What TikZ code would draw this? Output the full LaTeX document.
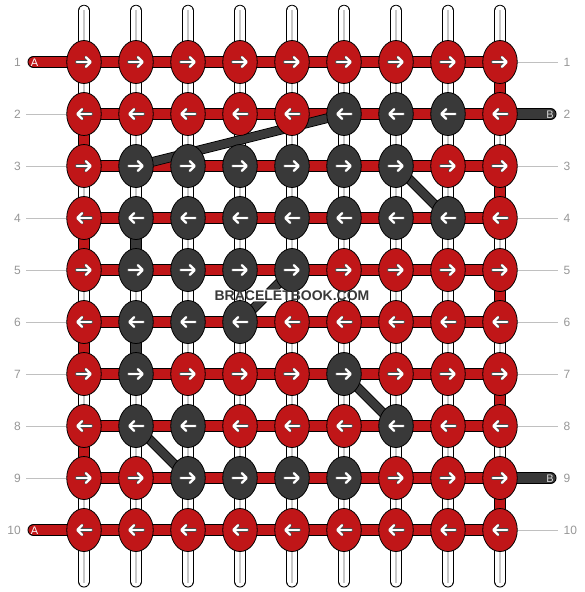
\documentclass[tikz,border=0pt]{standalone}
\usepackage{fontspec}
\setmainfont{Liberation Sans}
\usetikzlibrary{shapes.geometric,arrows.meta}
\definecolor{cR}{RGB}{192,22,24}
\definecolor{cD}{RGB}{57,57,57}
\definecolor{lblgray}{RGB}{150,150,150}
\definecolor{linegray}{RGB}{192,192,192}
\definecolor{midgray}{RGB}{200,200,200}
\pgfdeclarelayer{strings}
\pgfsetlayers{strings,main}
\tikzset{
  knot/.style={ellipse, draw=black, line width=0.8pt, minimum width=34.5pt, minimum height=43pt, inner sep=0pt},
  strand/.style={draw=black, line width=0.8pt, double=#1, double distance=10.4pt},
  diag/.style={draw=black, line width=0.8pt, double=cD, double distance=8pt},
  midline/.style={draw=midgray, line width=1.6pt},
  gline/.style={draw=linegray, line width=1pt},
  lbl/.style={text=lblgray, font=\fontsize{12}{12}\selectfont, inner sep=0pt},
  endlbl/.style={font=\fontsize{11}{11}\selectfont, inner sep=0pt},
  wmark/.style={font=\bfseries\fontsize{14}{14}\selectfont, inner sep=0.9pt},
  arrback/.style={draw=black!70, line width=3.3pt, line cap=round, -{Straight Barb[round,length=4.6pt,width=9.6pt]}},
  arrfront/.style={draw=white, line width=2.4pt, line cap=round, -{Straight Barb[round,length=4.6pt,width=9.6pt]}},
}
\begin{document}
\begin{tikzpicture}[x=1pt,y=-1pt]
\useasboundingbox (0,0) rectangle (584,592);
% knots
\foreach \r/\lst in {1/{R,R,R,R,R,R,R,R,R},2/{R,R,R,R,R,D,D,D,R},3/{R,D,D,D,D,D,D,R,R},4/{R,D,D,D,D,D,D,D,R},5/{R,D,D,D,D,R,R,R,R},6/{R,D,D,D,R,R,R,R,R},7/{R,D,R,R,R,D,R,R,R},8/{R,D,D,R,R,R,D,R,R},9/{R,R,D,D,D,D,R,R,R},10/{R,R,R,R,R,R,R,R,R}}{
  \pgfmathsetmacro\s{ifthenelse(mod(\r,2)==1,1,-1)}
  \pgfmathsetmacro\xa{-7.2*\s}
  \pgfmathsetmacro\xb{7.8*\s}
  \foreach \k [count=\c] in \lst {
    \node[knot, fill=c\k] (k\r-\c) at ({84+52*(\c-1)},{62+52*(\r-1)}) {};
    \draw[arrback] ([xshift=\xa pt]k\r-\c.center) -- ([xshift=\xb pt]k\r-\c.center);
    \draw[arrfront] ([xshift=\xa pt]k\r-\c.center) -- ([xshift=\xb pt]k\r-\c.center);
  }
}
% labels
\foreach \r in {1,...,10} {
  \node[lbl, anchor=east] (ll\r) at (21,{62+52*(\r-1)}) {\r};
  \node[lbl, anchor=west] (rl\r) at (563.5,{62+52*(\r-1)}) {\r};
}
% end coordinates
\foreach \c in {1,...,9} {
  \coordinate (t\c) at ({84+52*(\c-1)},10.8);
  \coordinate (b\c) at ({84+52*(\c-1)},581.5);
}
\coordinate (aend1) at (33.5,62);
\coordinate (aend10) at (33.5,530);
\coordinate (bend2) at (550.5,114);
\coordinate (bend9) at (550.5,478);
\node[endlbl, text=white] (alab1) at (34.5,62.5) {A};
\node[endlbl, text=white] (alab10) at (34.5,530.5) {A};
\node[endlbl, text=white!85!black] (blab2) at (550,114.5) {B};
\node[endlbl, text=white!85!black] (blab9) at (550,478.5) {B};
% watermark
\node[wmark, text=cD] (wm) at (292,295.5) {BRACELETBOOK.COM};

\begin{pgfonlayer}{strings}
  % vertical warp strings
  \foreach \c in {1,...,9} {
    \draw[strand=white, line cap=round] (t\c) -- (b\c);
    \draw[midline] ([yshift=1pt]t\c) -- ([yshift=-1pt]b\c);
  }
  % gray guide lines
  \foreach \r in {2,...,9} {
    \draw[gline] ([xshift=5pt]ll\r.east) -- (k\r-1.west);
  }
  \foreach \r in {1,3,4,5,6,7,8,10} {
    \draw[gline] (k\r-9.east) -- ([xshift=-6pt]rl\r.west);
  }
  % horizontal A string rows
  \foreach \r in {1,...,10} {
    \draw[strand=cR] (k\r-1.center) -- (k\r-9.center);
  }
  % turns at the edges
  \foreach \r [evaluate=\r as \n using int(\r+1)] in {1,3,5,7,9} {
    \draw[strand=cR] (k\r-9.center) -- (k\n-9.center);
  }
  \foreach \r [evaluate=\r as \n using int(\r+1)] in {2,4,6,8} {
    \draw[strand=cR] (k\r-1.center) -- (k\n-1.center);
  }
  % A ends
  \draw[strand=cR, line cap=round] (aend1) -- (k1-1.center);
  \draw[strand=cR, line cap=round] (aend10) -- (k10-1.center);
  % B ends
  \draw[strand=cD, line cap=round] (k2-9.center) -- (bend2);
  \draw[strand=cD, line cap=round] (k9-9.center) -- (bend9);
  % dark vertical segments
  \draw[strand=cD] (k4-2.center) -- (k5-2.center);
  \draw[strand=cD] (k6-2.center) -- (k7-2.center);
  % dark diagonals
  \draw[diag] (k2-6.center) -- (k3-2.center);
  \draw[diag] (k3-7.center) -- (k4-8.center);
  \begin{scope}[even odd rule]
    \clip (0,0) rectangle (584,592) (wm.south west) rectangle (wm.north east);
    \draw[diag] (k5-5.center) -- (k6-4.center);
  \end{scope}
  \draw[diag] (k7-6.center) -- (k8-7.center);
  \draw[diag] (k8-2.center) -- (k9-3.center);
\end{pgfonlayer}
\end{tikzpicture}
\end{document}
